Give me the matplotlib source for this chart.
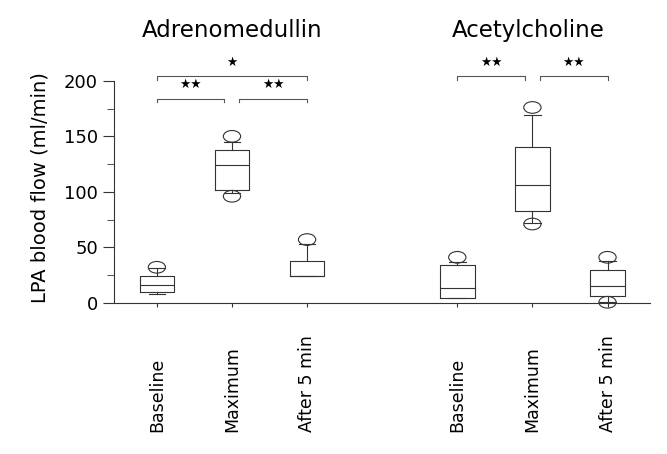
import matplotlib
matplotlib.use("Agg")
import matplotlib.pyplot as plt
from matplotlib.patches import Ellipse
import matplotlib.transforms as mtransforms

# box statistics (ml/min)
labels = ["Baseline", "Maximum", "After 5 min", "Baseline", "Maximum", "After 5 min"]
positions = [0, 1, 2, 4, 5, 6]
q1 = [9.6, 102, 24.6, 4, 83, 5.7]
med = [16, 124, 24.6, 13, 106, 15]
q3 = [24.6, 138, 37.5, 34, 140, 30]
whislo = [7.5, 99, 24.6, 4, 72, 1]
whishi = [31, 145, 53, 37, 169, 38]
top_pts = [32, 150, 57, 41, 176, 41]
low_pts = [None, 96, None, None, 71, 0.5]

titles = ["Adrenomedullin", "Acetylcholine"]
# significance brackets: (x1, x2, y, text)
brackets = [(0, 2, 204, "\u2605"), (0, 0.9, 184, "\u2605\u2605"), (1.1, 2, 184, "\u2605\u2605"),
            (4, 4.9, 204, "\u2605\u2605"), (5.1, 6, 204, "\u2605\u2605")]

lc = "#333333"
fig = plt.figure(figsize=(6.67, 4.54), dpi=100)
ax = fig.add_axes([0.171, 0.333, 0.804, 0.489])

stats = []
for i in range(len(positions)):
    stats.append(dict(med=med[i], q1=q1[i], q3=q3[i], whislo=whislo[i],
                      whishi=whishi[i], fliers=[], label=labels[i]))
ax.bxp(stats, positions=positions, widths=0.46, capwidths=0.22,
       boxprops=dict(color=lc, lw=0.8), medianprops=dict(color=lc, lw=0.8),
       whiskerprops=dict(color=lc, lw=0.8), capprops=dict(color=lc, lw=0.8))

# circles at the extreme values
for i, p in enumerate(positions):
    for v in (top_pts[i], low_pts[i]):
        if v is not None:
            e = Ellipse((p, v), 0.23, 10.5, fill=False, ec=lc, lw=0.8, clip_on=False)
            ax.add_patch(e)

for x1, x2, y, t in brackets:
    ax.plot([x1, x1, x2, x2], [y - 3, y, y, y - 3], color="#555555", lw=0.8, clip_on=False)
    ax.text((x1 + x2) / 2, y + 13, t, ha="center", va="center", fontsize=9, clip_on=False)

ax.text(1, 245, titles[0], ha="center", va="center", fontsize=16.5)
ax.text(4.95, 245, titles[1], ha="center", va="center", fontsize=16.5)

ax.set_xlim(-0.57, 6.57)
ax.set_ylim(0, 200)
ax.set_yticks([0, 50, 100, 150, 200])
ax.set_yticks([25, 75, 125, 175], minor=True)
ax.set_xticks(positions)
ax.set_xticklabels([])
# category labels, bottom-aligned as in the original
trans = mtransforms.blended_transform_factory(ax.transData, fig.transFigure)
for p, lab in zip(positions, labels):
    ax.text(p, 0.048, lab, transform=trans, rotation=90, ha="center", va="bottom", fontsize=12.5)
ax.tick_params(axis="x", length=3, color=lc)
ax.tick_params(axis="y", which="major", length=8, labelsize=13, color=lc)
ax.tick_params(axis="y", which="minor", length=5, color=lc)
ax.set_ylabel("LPA blood flow (ml/min)", fontsize=14)
ax.yaxis.set_label_coords(-0.12, 0.52)
for s in ["top", "right"]:
    ax.spines[s].set_visible(False)
for s in ["left", "bottom"]:
    ax.spines[s].set_color(lc)
    ax.spines[s].set_linewidth(0.8)

fig.savefig("out.png", dpi=100)
